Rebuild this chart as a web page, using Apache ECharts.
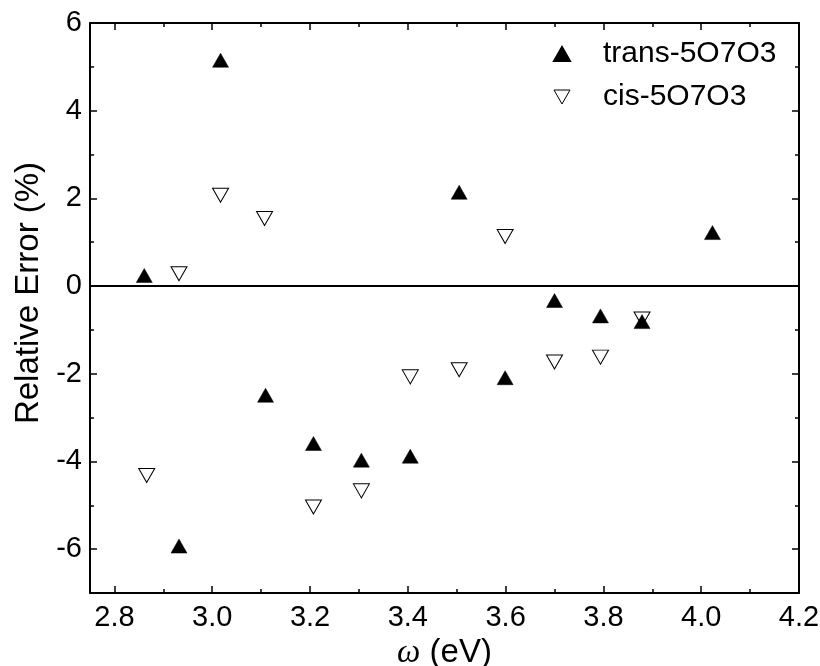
<!DOCTYPE html>
<html>
<head>
<meta charset="utf-8">
<script src="https://cdn.jsdelivr.net/npm/echarts@6/dist/echarts.min.js"></script>
<style>
  html, body { margin: 0; padding: 0; background: #ffffff; }
  #chart { width: 820px; height: 666px; }
</style>
</head>
<body>
<div id="chart"></div>
<script>
// Relative error of computed excitation energies for the two isomers
const transOmega = [2.861, 2.932, 3.017, 3.109, 3.207, 3.305, 3.405, 3.505, 3.599, 3.700, 3.794, 3.879, 4.023];
const transError = [0.24, -5.93, 5.15, -2.49, -3.59, -3.97, -3.88, 2.14, -2.09, -0.33, -0.68, -0.81, 1.22];
const cisOmega = [2.866, 2.932, 3.017, 3.107, 3.207, 3.305, 3.405, 3.505, 3.599, 3.700, 3.794, 3.879];
const cisError = [-4.32, 0.28, 2.07, 1.54, -5.04, -4.67, -2.07, -1.91, 1.13, -1.73, -1.62, -0.75];

const xMajorTicks = [2.8, 3.0, 3.2, 3.4, 3.6, 3.8, 4.0, 4.2];
const xMinorTicks = [2.9, 3.1, 3.3, 3.5, 3.7, 3.9, 4.1];
const yMajorTicks = [-6, -4, -2, 0, 2, 4, 6];
const yMinorTicks = [-5, -3, -1, 1, 3, 5];

const FONT = 'Liberation Sans, Arial, Helvetica, sans-serif';
const X_MIN = 2.75, X_MAX = 4.2, Y_MIN = -7, Y_MAX = 6;

// Downward-pointing triangle used for the open markers' legend icon
const DOWN_TRIANGLE = 'path://M0,0 L16,0 L8,14 Z';

function pairs(xs, ys) { return xs.map((x, i) => [x, ys[i]]); }

// A frame axis: line + inward ticks at the given values, optionally labelled
function xAxisDef(position, ticks, len, withLine, withLabels) {
  return {
    type: 'value', position: position, min: X_MIN, max: X_MAX,
    axisLine: { show: withLine, onZero: false, lineStyle: { color: '#000', width: 2 } },
    axisTick: { show: true, inside: true, length: len, customValues: ticks, lineStyle: { color: '#000', width: 1.5 } },
    axisLabel: withLabels ? {
      show: true, customValues: ticks, margin: 10, color: '#000', fontSize: 29, fontFamily: FONT,
      formatter: v => Number(v).toFixed(1)
    } : { show: false },
    splitLine: { show: false }
  };
}
function yAxisDef(position, ticks, len, withLine, withLabels) {
  return {
    type: 'value', position: position, min: Y_MIN, max: Y_MAX,
    axisLine: { show: withLine, onZero: false, lineStyle: { color: '#000', width: 2 } },
    axisTick: { show: true, inside: true, length: len, customValues: ticks, lineStyle: { color: '#000', width: 1.5 } },
    axisLabel: withLabels ? {
      show: true, customValues: ticks, margin: 8, color: '#000', fontSize: 29, fontFamily: FONT,
      formatter: v => String(v)
    } : { show: false },
    splitLine: { show: false }
  };
}

const xBottom = xAxisDef('bottom', xMajorTicks, 7, true, true);
xBottom.name = '{w|ω} (eV)';
xBottom.nameLocation = 'middle';
xBottom.nameGap = 39;
xBottom.nameTextStyle = {
  color: '#000', fontSize: 33, fontFamily: FONT,
  rich: { w: { fontFamily: 'Liberation Serif, Times New Roman, serif', fontStyle: 'italic', fontSize: 33, color: '#000' } }
};

const yLeft = yAxisDef('left', yMajorTicks, 7, true, true);
yLeft.name = 'Relative Error (%)';
yLeft.nameLocation = 'middle';
yLeft.nameGap = 42;
yLeft.nameTextStyle = { color: '#000', fontSize: 33, fontFamily: FONT, padding: [0, 0, 0, 30] };

const chart = echarts.init(document.getElementById('chart'), null, { renderer: 'canvas' });
chart.setOption({
  animation: false,
  backgroundColor: '#ffffff',
  grid: { left: 90, right: 21, top: 23, bottom: 73, containLabel: false, outerBoundsMode: 'none' },
  legend: {
    orient: 'vertical', left: 548, top: 34,
    itemWidth: 16, itemHeight: 14, itemGap: 13,
    textStyle: { color: '#000', fontSize: 30, fontFamily: FONT, padding: [0, 0, 0, 28] },
    data: [
      { name: 'trans-5O7O3', icon: 'triangle' },
      { name: 'cis-5O7O3', icon: DOWN_TRIANGLE, itemStyle: { color: '#ffffff', borderColor: '#000', borderWidth: 1 } }
    ]
  },
  xAxis: [
    xBottom,
    xAxisDef('bottom', xMinorTicks, 4, false, false),
    xAxisDef('top', xMajorTicks, 7, true, false),
    xAxisDef('top', xMinorTicks, 4, false, false)
  ],
  yAxis: [
    yLeft,
    yAxisDef('left', yMinorTicks, 4, false, false),
    yAxisDef('right', yMajorTicks, 7, true, false),
    yAxisDef('right', yMinorTicks, 4, false, false)
  ],
  series: [
    {
      name: 'trans-5O7O3', type: 'scatter', xAxisIndex: 0, yAxisIndex: 0,
      symbol: 'triangle', symbolSize: [16, 14],
      itemStyle: { color: '#000', borderColor: '#000', borderWidth: 0.5, opacity: 1 },
      data: pairs(transOmega, transError),
      markLine: {
        silent: true, symbol: ['none', 'none'], label: { show: false },
        lineStyle: { color: '#000', width: 2, type: 'solid' },
        data: [{ yAxis: 0 }]
      },
      z: 3
    },
    {
      name: 'cis-5O7O3', type: 'scatter', xAxisIndex: 0, yAxisIndex: 0,
      symbol: 'triangle', symbolRotate: 180, symbolSize: [16, 14],
      itemStyle: { color: '#ffffff', borderColor: '#000', borderWidth: 1, opacity: 1 },
      data: pairs(cisOmega, cisError),
      z: 2
    }
  ]
});
</script>
</body>
</html>
